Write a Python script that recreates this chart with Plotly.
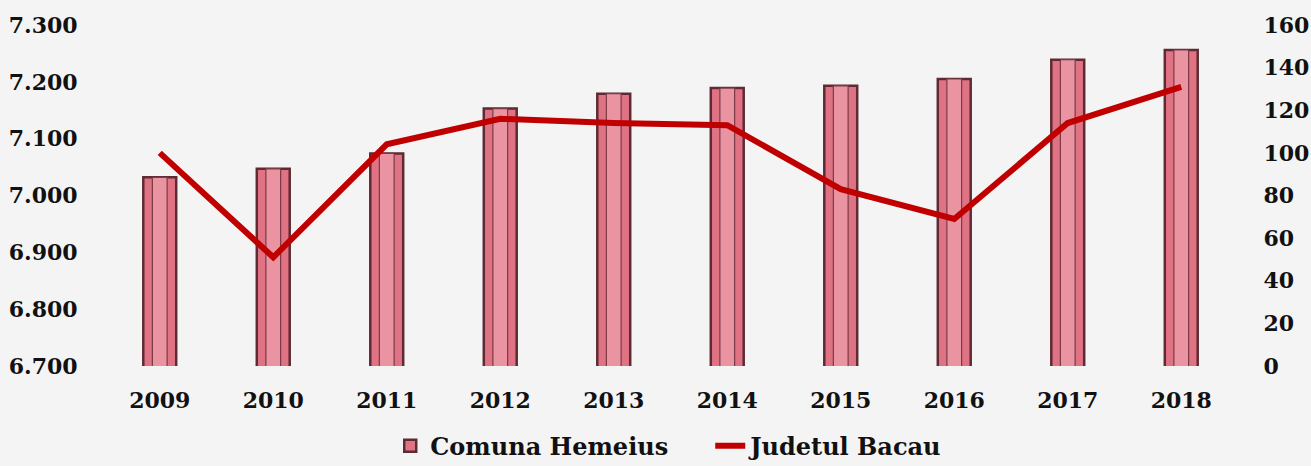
import plotly.graph_objects as go

years = ["2009", "2010", "2011", "2012", "2013", "2014", "2015", "2016", "2017", "2018"]
comuna_hemeius = [7032, 7047, 7074, 7153, 7179, 7189, 7193, 7205, 7239, 7256]
judetul_bacau = [100, 51, 104, 116, 114, 113, 83, 69, 114, 131]
left_ticks = [6700, 6800, 6900, 7000, 7100, 7200, 7300]
right_ticks = [0, 20, 40, 60, 80, 100, 120, 140, 160]

FONT = "DejaVu Serif"
TICKFONT = dict(family=FONT, size=22, weight="bold", color="#111111")

fig = go.Figure()
fig.add_trace(go.Bar(
    x=years, y=comuna_hemeius, name="Comuna Hemeius",
    width=0.29,
    marker=dict(color="#e07383", line=dict(color="#5e2a33", width=2.5)),
    yaxis="y",
))
fig.add_trace(go.Bar(
    x=years, y=comuna_hemeius, name="Comuna Hemeius inner",
    width=0.13, showlegend=False, hoverinfo="skip",
    marker=dict(color="#ea94a2", line=dict(color="#7a3a45", width=1.2)),
    yaxis="y",
))
fig.add_trace(go.Scatter(
    x=years, y=judetul_bacau, name="Judetul Bacau",
    mode="lines", line=dict(color="#c00000", width=6),
    yaxis="y2",
))

fig.update_layout(
    width=1311, height=466,
    margin=dict(l=103, r=73, t=25, b=100, autoexpand=False),
    paper_bgcolor="#f4f4f4", plot_bgcolor="rgba(0,0,0,0)",
    separators=",.",
    barmode="overlay",
    font=dict(family=FONT, size=22, color="#111111"),
    showlegend=True,
    legend=dict(orientation="h", x=0.535, xanchor="center", y=-0.235, yanchor="middle",
                font=dict(family=FONT, size=24, color="#111111", weight="bold"),
                entrywidth=275, entrywidthmode="pixels",
                bgcolor="rgba(0,0,0,0)"),
    xaxis=dict(
        type="category", showgrid=False, zeroline=False, showline=False,
        ticks="outside", ticklen=15, tickcolor="rgba(0,0,0,0)",
        tickfont=TICKFONT,
    ),
    yaxis=dict(
        range=[6700, 7300], tickvals=left_ticks, tickformat=",d",
        showgrid=False, zeroline=False, showline=False,
        ticks="outside", ticklen=20, tickcolor="rgba(0,0,0,0)",
        tickfont=TICKFONT,
    ),
    yaxis2=dict(
        range=[0, 160], tickvals=right_ticks, overlaying="y", side="right",
        showgrid=False, zeroline=False, showline=False,
        ticks="outside", ticklen=20, tickcolor="rgba(0,0,0,0)",
        tickfont=TICKFONT,
    ),
)

fig.write_html("out.html", config={"displayModeBar": False},
               post_script="document.body.style.margin='0';")
